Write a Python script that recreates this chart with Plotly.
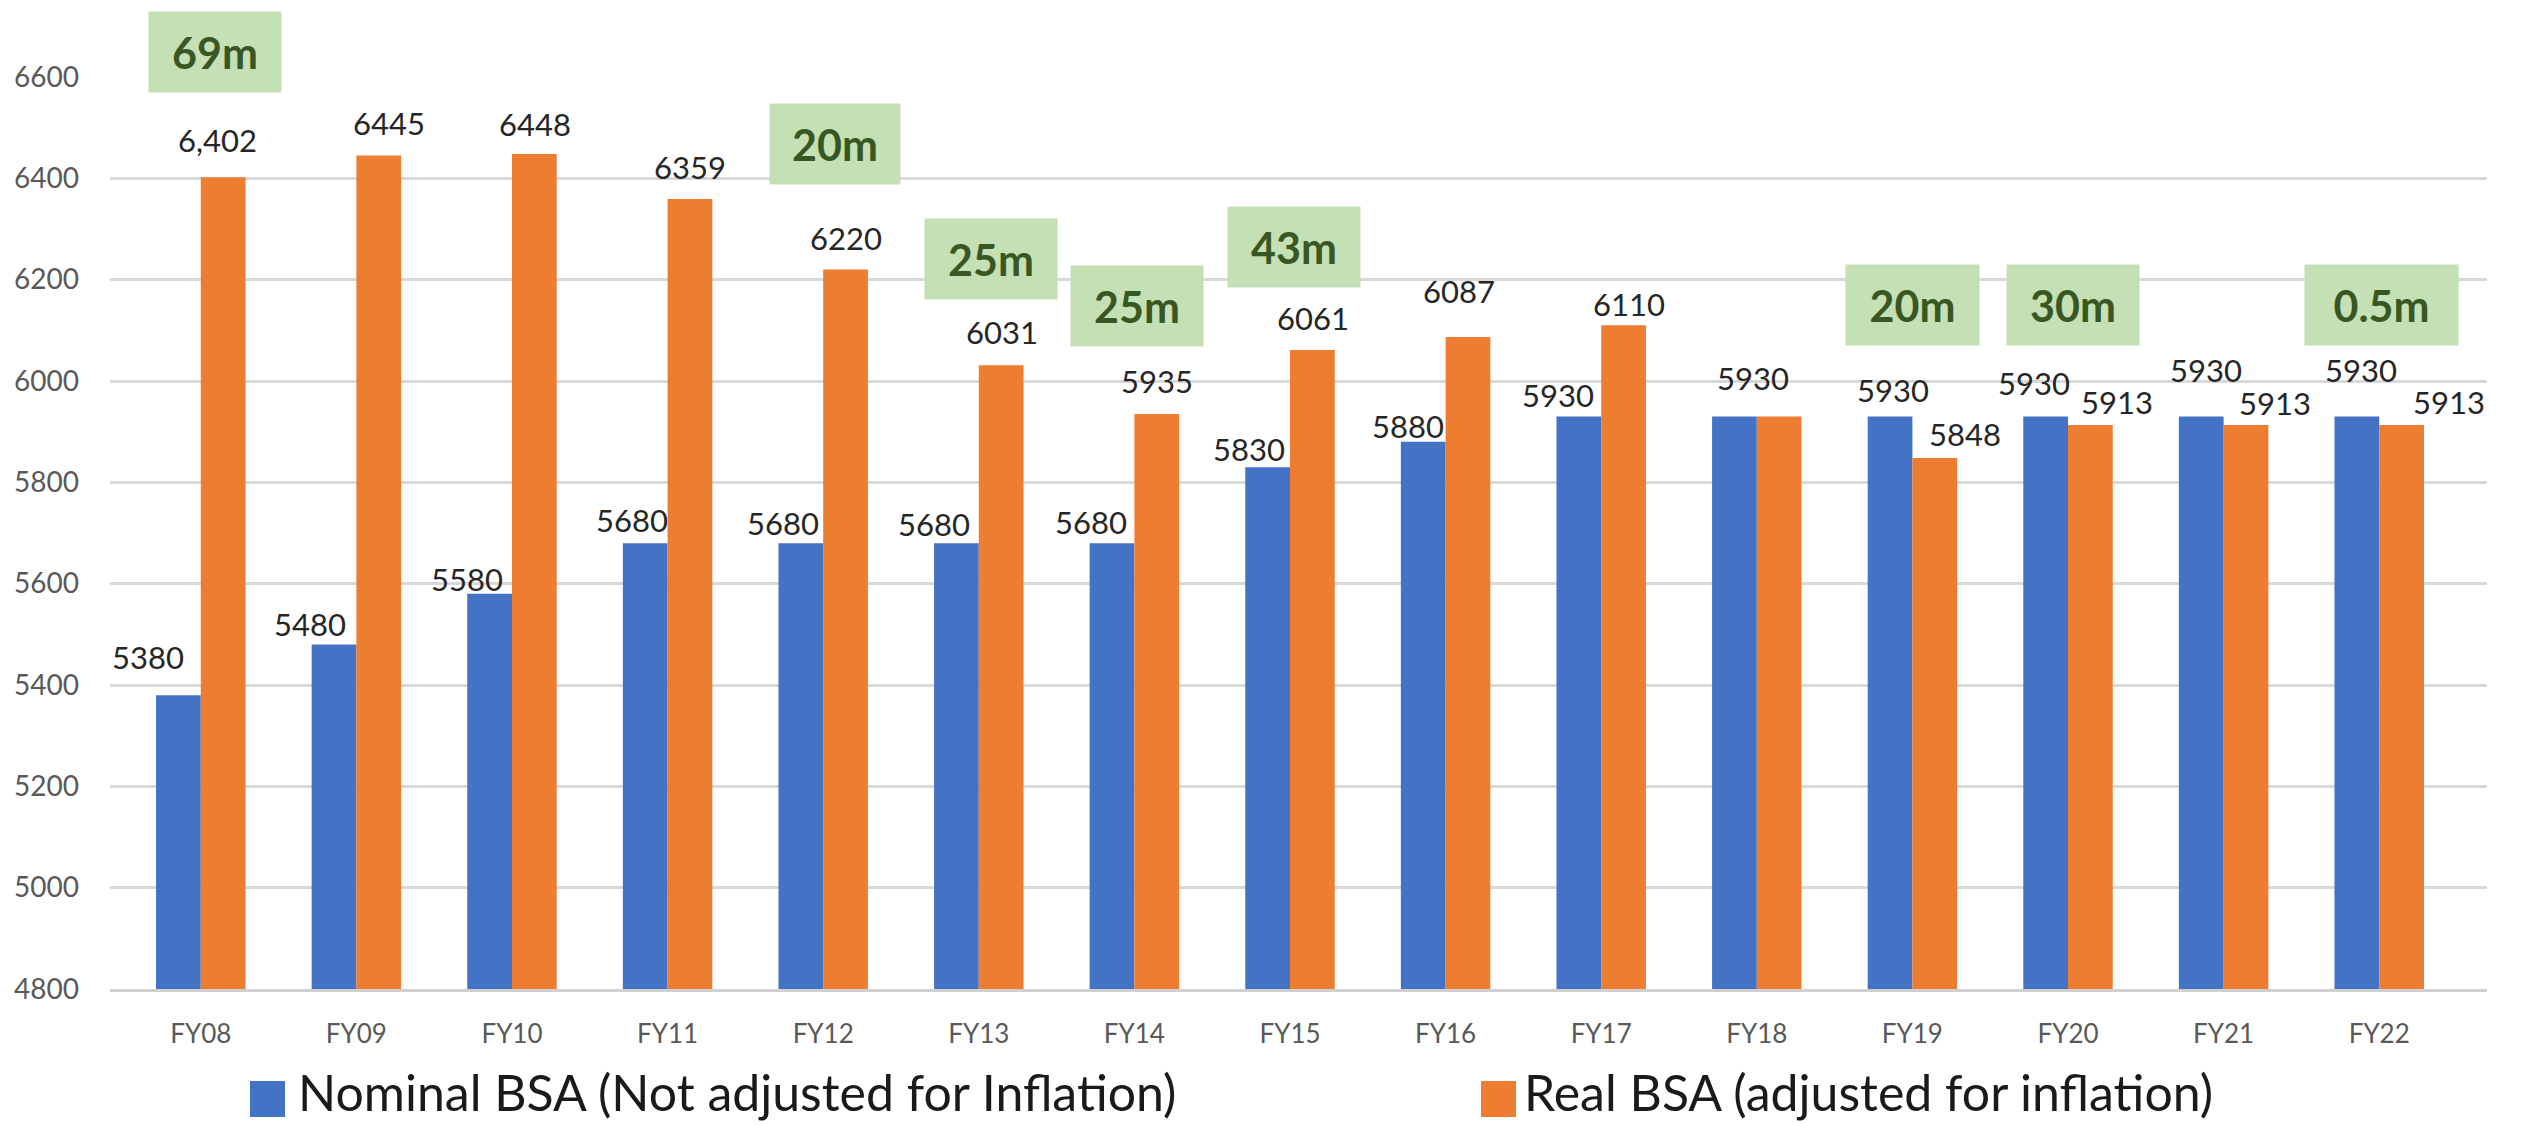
import plotly.graph_objects as go

# ---------------- data ----------------
categories = ["FY08", "FY09", "FY10", "FY11", "FY12", "FY13", "FY14", "FY15",
              "FY16", "FY17", "FY18", "FY19", "FY20", "FY21", "FY22"]
nominal = [5380, 5480, 5580, 5680, 5680, 5680, 5680, 5830, 5880, 5930,
           5930, 5930, 5930, 5930, 5930]
real = [6402, 6445, 6448, 6359, 6220, 6031, 5935, 6061, 6087, 6110,
        5930, 5848, 5913, 5913, 5913]
nominal_name = "Nominal BSA (Not adjusted for Inflation)"
real_name = "Real BSA (adjusted for inflation)"

# callout boxes (category, text, value level)
box_cats = ["FY08", "FY12", "FY13", "FY14", "FY15", "FY19", "FY20", "FY22"]
box_text = ["69m", "20m", "25m", "25m", "43m", "20m", "30m", "0.5m"]
box_level = [6650, 6467, 6241, 6148, 6265, 6150, 6150, 6150]

y_min, y_max = 4800, 6600
y_ticks = [4800, 5000, 5200, 5400, 5600, 5800, 6000, 6200, 6400, 6600]

# ---------------- styling / placement ----------------
BLUE = "#4472c4"
ORANGE = "#ed7d31"
FONT = "Lato"
W, H = 2522, 1125
ML, MR, MT, MB = 110, 35, 77, 136
BARGAP = 0.425

# label placement tweaks (px): horizontal offset and height of label centre above bar top
nom_dx = [-30, -24, -22, -13, -17, -22, -21, -18, -15, -20, 0, 3, -11, 5, 5]
nom_dy = [38, 20, 15, 23, 20, 19, 21, 18, 16, 21, 0, 26, 33, 46, 46]
nom_show = [True] * 10 + [False] + [True] * 4
real_dx = [-6, 10, 0, 0, 0, 0, 0, 0, -9, 5, -27, 30, 26, 29, 47]
real_dy = [37, 33, 30, 32, 32, 33, 33, 32, 46, 21, 38, 24, 23, 22, 23]
box_dx = [14, 12, 12, 3, 4, 0, 5, 2]
box_w = [132, 130, 132, 132, 132, 133, 132, 153]

real_text = [f"{real[0]:,}"] + [str(v) for v in real[1:]]
nom_text = [str(v) for v in nominal]

fig = go.Figure()
fig.add_trace(go.Bar(x=categories, y=nominal, name=nominal_name,
                     marker=dict(color=BLUE, line=dict(width=0)), showlegend=False))
fig.add_trace(go.Bar(x=categories, y=real, name=real_name,
                     marker=dict(color=ORANGE, line=dict(width=0)), showlegend=False))

plot_w = W - ML - MR
plot_h = H - MT - MB
px_per_unit = plot_h / (y_max - y_min)
cat_w = plot_w / len(categories)
bar_w = cat_w * (1 - BARGAP) / 2
half = bar_w / 2

annotations = []
for i, c in enumerate(categories):
    if nom_show[i]:
        annotations.append(dict(x=c, y=nominal[i], xref="x", yref="y", text=nom_text[i],
                                showarrow=False, xanchor="center", yanchor="middle",
                                xshift=-half + nom_dx[i], yshift=nom_dy[i],
                                font=dict(family=FONT, size=31, color="#262626")))
    annotations.append(dict(x=c, y=real[i], xref="x", yref="y", text=real_text[i],
                            showarrow=False, xanchor="center", yanchor="middle",
                            xshift=half + real_dx[i], yshift=real_dy[i],
                            font=dict(family=FONT, size=31, color="#262626")))

for c, t, lv, dx, bw in zip(box_cats, box_text, box_level, box_dx, box_w):
    anchor_y = min(lv, y_max)
    annotations.append(dict(x=c, y=anchor_y, xref="x", yref="y", text=f"<b>{t}</b>",
                            showarrow=False, xanchor="center", yanchor="middle",
                            xshift=dx, yshift=(lv - anchor_y) * px_per_unit,
                            width=bw, height=80, borderpad=0,
                            bgcolor="#c5e0b4", align="center", valign="middle",
                            font=dict(family=FONT, size=43, color="#385723")))

# custom legend (large square keys like the original)
def px_x(X):
    return (X - ML) / plot_w
def px_y(Y):
    return (H - MB - Y) / plot_h

shapes = []
legend_items = [(nominal_name, BLUE, 250, 296), (real_name, ORANGE, 1481, 1522)]
for name, col, kx, tx in legend_items:
    shapes.append(dict(type="rect", xref="paper", yref="paper",
                       x0=px_x(kx), x1=px_x(kx + 35), y0=px_y(1117), y1=px_y(1081),
                       fillcolor=col, line=dict(width=0)))
    annotations.append(dict(x=px_x(tx), y=px_y(1124), xref="paper", yref="paper",
                            text=name, showarrow=False, xanchor="left", yanchor="bottom",
                            font=dict(family=FONT, size=50, color="#1a1a1a")))

fig.update_layout(
    template="none",
    width=W, height=H,
    margin=dict(l=ML, r=MR, t=MT, b=MB, pad=0, autoexpand=False),
    paper_bgcolor="white", plot_bgcolor="white",
    barmode="group", bargap=BARGAP, bargroupgap=0,
    showlegend=False,
    font=dict(family=FONT),
    annotations=annotations,
    shapes=shapes,
    xaxis=dict(type="category", automargin=False, showgrid=False, showline=True,
               linecolor="#d0d0d0", linewidth=3, ticks="", ticklabelstandoff=20,
               tickfont=dict(family=FONT, size=26, color="#595959")),
    yaxis=dict(range=[y_min, y_max], tickvals=y_ticks, automargin=False, showgrid=True,
               gridcolor="#d9d9d9", gridwidth=3, zeroline=False, showline=False,
               ticks="", ticklabelstandoff=30,
               tickfont=dict(family=FONT, size=28, color="#595959")),
)

fig.write_html("out.html", config={"displayModeBar": False},
               post_script="document.body.style.margin='0';document.body.style.overflow='hidden';")
